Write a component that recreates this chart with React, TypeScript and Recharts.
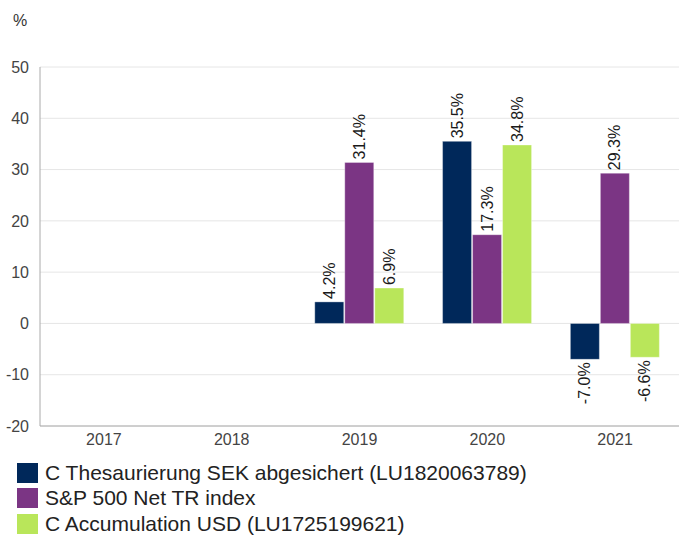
import { BarChart, Bar, XAxis, YAxis, CartesianGrid, LabelList } from "recharts";

const YEARS = ["2017", "2018", "2019", "2020", "2021"];
const FUND_SEK = [null, null, 4.2, 35.5, -7.0];
const SP500 = [null, null, 31.4, 17.3, 29.3];
const FUND_USD = [null, null, 6.9, 34.8, -6.6];
const Y_TICKS = [-20, -10, 0, 10, 20, 30, 40, 50];

const SERIES = [
  { key: "sek", name: "C Thesaurierung SEK abgesichert (LU1820063789)", color: "#00285a", values: FUND_SEK },
  { key: "sp", name: "S&P 500 Net TR index", color: "#7b3584", values: SP500 },
  { key: "usd", name: "C Accumulation USD (LU1725199621)", color: "#b9e65a", values: FUND_USD },
];

const data = YEARS.map((year, i) => {
  const row: Record<string, string | number | null> = { year };
  SERIES.forEach((s) => (row[s.key] = s.values[i]));
  return row;
});

const FONT = "'Liberation Sans', Arial, sans-serif";

const renderLabel = (props: any) => {
  const { x, y, width, height, value } = props;
  if (value == null) return null;
  const cx = Number(x) + Number(width) / 2;
  const top = Math.min(Number(y), Number(y) + Number(height));
  const bottom = Math.max(Number(y), Number(y) + Number(height));
  const neg = value < 0;
  const ay = neg ? bottom + 3 : top - 3;
  return (
    <text
      x={cx}
      y={ay}
      transform={`rotate(-90, ${cx}, ${ay})`}
      textAnchor={neg ? "end" : "start"}
      dominantBaseline="central"
      fontSize={16}
      fill="#1a1a1a"
      fontFamily={FONT}
    >
      {`${Number(value).toFixed(1)}%`}
    </text>
  );
};

const App = () => {
  return (
    <div style={{ position: "absolute", left: 0, top: 0, width: 679, height: 536, background: "#fff", fontFamily: FONT }}>
      <div style={{ position: "absolute", left: 13, top: 12, fontSize: 16, color: "#333" }}>%</div>
      <BarChart
        width={679}
        height={450}
        data={data}
        margin={{ top: 67, right: 0, left: 0, bottom: 0 }}
        barCategoryGap="15%"
        barGap={1}
      >
        <CartesianGrid vertical={false} stroke="#e6e6e6" />
        <XAxis
          dataKey="year"
          tick={{ fontSize: 16, fill: "#444", fontFamily: FONT }}
          tickLine={false}
          axisLine={{ stroke: "#aaa" }}
          height={24}
          tickMargin={2}
        />
        <YAxis
          domain={[-20, 50]}
          ticks={Y_TICKS}
          width={40}
          tick={{ fontSize: 16, fill: "#444", fontFamily: FONT }}
          tickLine={false}
          axisLine={{ stroke: "#aaa" }}
          tickMargin={5}
          interval={0}
        />
        {SERIES.map((s) => (
          <Bar key={s.key} dataKey={s.key} name={s.name} fill={s.color} stroke="#ffffff" strokeOpacity={0.35} isAnimationActive={false}>
            <LabelList dataKey={s.key} content={renderLabel} />
          </Bar>
        ))}
      </BarChart>
      {SERIES.map((s, i) => (
        <div
          key={s.key}
          style={{ position: "absolute", left: 17, top: 462 + i * 25.5, height: 21, display: "flex", alignItems: "center" }}
        >
          <div style={{ width: 21, height: 20, background: s.color, marginRight: 7 }} />
          <span style={{ fontSize: 21, color: "#222", whiteSpace: "nowrap" }}>{s.name}</span>
        </div>
      ))}
    </div>
  );
};

export default App;
